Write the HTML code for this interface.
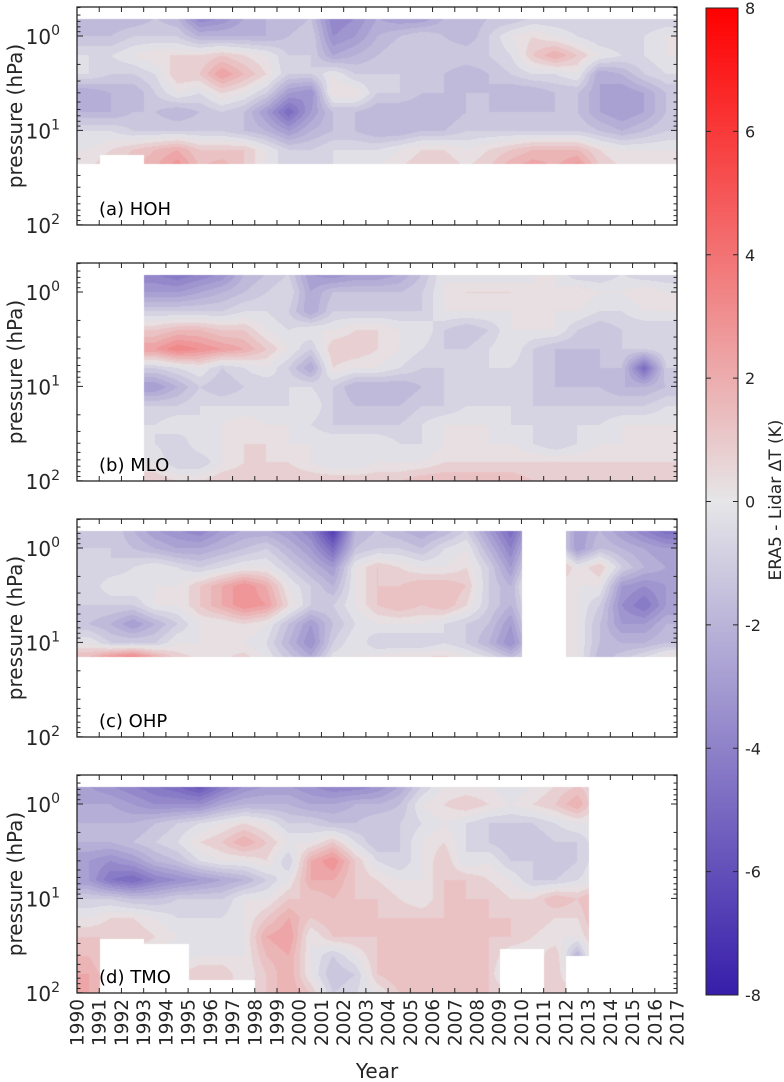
<!DOCTYPE html>
<html><head><meta charset="utf-8">
<style>
body{margin:0;background:#fff;width:784px;height:1082px;overflow:hidden;position:relative;font-family:"DejaVu Sans","Liberation Sans",sans-serif;}
canvas{position:absolute;}
svg{position:absolute;left:0;top:0;}
</style></head>
<body>
<canvas id="ca" width="600" height="218" style="left:77px;top:7px"></canvas>
<canvas id="cb" width="600" height="218" style="left:77px;top:263px"></canvas>
<canvas id="cc" width="600" height="218" style="left:77px;top:519px"></canvas>
<canvas id="cd" width="600" height="218" style="left:77px;top:775px"></canvas>
<canvas id="cbar" width="32" height="987" style="left:706px;top:8px"></canvas>
<svg id="ov" width="784" height="1082"></svg>
<script>
// grid: years 1990..2016 (columns), log10 pressure levels (rows)
const years = [1990,1991,1992,1993,1994,1995,1996,1997,1998,1999,2000,2001,2002,2003,2004,2005,2006,2007,2008,2009,2010,2011,2012,2013,2014,2015,2016];
const levels = [-0.2,0,0.2,0.4,0.6,0.8,1.0,1.2,1.4,1.6,1.8,2.0];
const panelNames = ["(a) HOH","(b) MLO","(c) OHP","(d) TMO"];
const colorTicks = [8,6,4,2,0,-2,-4,-6,-8];
const yearLabels = ["1990","1991","1992","1993","1994","1995","1996","1997","1998","1999","2000","2001","2002","2003","2004","2005","2006","2007","2008","2009","2010","2011","2012","2013","2014","2015","2016","2017"];

const dataA = [
[-2,-2,-2,-1.5,-2,-4,-3.5,-2.5,-2,-2,-1.5,-4,-3.5,-2.5,-3,-3,-2,-2,-1.5,-1.5,-1,-1,-1,-0.5,-1,-1,-1],
[-1.5,-1.5,-1,-1,-1,-2,-2,-2,-2,-1.5,-1,-3.5,-3,-2,-1.5,-1,-1.5,-2,-1,0,0.5,0,-0.5,-1,-1,-0.5,0],
[-0.5,-0.5,0,0.5,0.5,0.5,1,0.5,0,-1,-1,-2.5,-2,-1.5,-1,-1,-1,-1,-1,-0.5,1,2,1,0,-0.5,-0.5,0],
[-0.5,-1,-1,-0.5,1,1,2.5,1.5,0.5,-1,-1,0,-1,-1,-1,-1.5,-1.5,-2,-1.5,-1,-0.5,-0.5,0,-2.5,-2,-1,-0.5],
[-2.5,-2,-2,-1,0,-0.5,0.5,0,-1,-3,-3.5,0.5,0.5,-1,-1,-1.5,-1.5,-1.5,-1.5,-2,-2,-1.5,-1.5,-2.5,-3,-2.5,-1.5],
[-2,-2,-1.5,-1.5,-2,-1.5,-1,-1.5,-3,-5,-3,-1.5,-1.5,-2,-2,-2,-2,-1.5,-1.5,-1.5,-1.5,-1.5,-1.5,-2.5,-3,-2.5,-1.5],
[-0.5,-0.5,-1,-1,-1,-1,-1,-1.5,-2,-3,-2,-1.5,-1.5,-2,-2,-1.5,-1.5,-1,-1,-1,-1,-1,-1,-1.5,-2,-1.5,-1],
[0,0.5,1,1.5,2,1,1,1,0,-1,-1,-0.5,-0.5,-0.5,0,0.5,0.5,0,0.5,1,1.5,1.5,1.5,0.5,0,0,0],
[0.5,1,1.5,2,3,1.5,2,1,0,-1,-1,-0.5,-0.5,0,0.5,1,1,0.5,1,2,2.5,2,3,1,0.5,0.5,0],
[0.5,1,1.5,2,3,1.5,2,1,0,-1,-1,-0.5,-0.5,0,0.5,1,1,0.5,1,2,2.5,2,3,1,0.5,0.5,0],
[0.5,1,1.5,2,3,1.5,2,1,0,-1,-1,-0.5,-0.5,0,0.5,1,1,0.5,1,2,2.5,2,3,1,0.5,0.5,0],
[0.5,1,1.5,2,3,1.5,2,1,0,-1,-1,-0.5,-0.5,0,0.5,1,1,0.5,1,2,2.5,2,3,1,0.5,0.5,0]];
const dataB = [
[-4,-4,-4,-4,-4.5,-4,-3.5,-2,-1.5,-1,-3,-3.5,-3,-3,-2.5,-1.5,0,-0.5,-0.5,-0.5,0,0,-1,-1,-0.5,-1,-1],
[-3,-3,-3,-3,-3,-2.5,-2,-1.5,-1,-0.5,-2.5,-1.5,-1.5,-1.5,-1.5,-1,0,0.5,0.5,0.5,0,0,0.5,0,0,0.5,0],
[-1,-1,-1,-1,-1,-1,-1,-0.5,-0.5,-1,-2.5,-1,-1,-1,-1,-1,0,0,0,0,0,0,0,-0.5,-0.5,0,0],
[1,1,1,1,1.5,1.5,1,1,0,-0.5,0,0,0.5,0.5,0,0,-1,-1.5,-1,0,0,0,-1,-1.5,-1,-1,-1],
[2.5,2.5,2.5,2.5,3.5,3,2.5,2,1,0,-1,1,1,0.5,0,-0.5,-1,-1,-0.5,0,-1,-1.5,-1.5,-1.5,-1,-1,-0.5],
[-1,-1,-1,-1,-0.5,0,-1,-0.5,0,-1,-2.5,0.5,0,0,-0.5,-1,-1,-0.5,-0.5,-0.5,-1,-1.5,-2,-1.5,-1.5,-5,-1],
[-3,-3,-3,-3,-2,-1,-1.5,-1,-1,-0.5,-0.5,-1,-2,-2,-2,-1.5,-1,-1,-1,-0.5,-1,-1.5,-1.5,-1.5,-2,-2,-1.5],
[-1,-1,-1,-1,-1,-0.5,-0.5,-0.5,-0.5,-0.5,0,-1,-1.5,-1.5,-1.5,-1,-1,-0.5,-0.5,-0.5,-1,-1,-1,-1,-1,-1,-0.5],
[-0.5,-0.5,-0.5,-0.5,0,-0.5,0,0.5,0,0,-0.5,-1,-1,-1,-1,-0.5,0,0,0,-0.5,-0.5,-0.5,-0.5,-0.5,0,0,0],
[-0.5,-0.5,-0.5,-0.5,-1,0,0,0.5,0.5,0,0,0,0,0,-0.5,-0.5,0,0,0,0,-0.5,-1,-0.5,0,0,0,0],
[0,0,0,0,-1,-1,0,0.5,0.5,0.5,0,-0.5,-0.5,0,0,0,0.5,0.5,0.5,0.5,0.5,0.5,0.5,0.5,0.5,0.5,0.5],
[1,1,1,1,0.5,0.5,1,1,1,1,1,1,1,1,1,1.5,1.5,1.5,1.5,1.5,1,1,1,1,1,1,1]];
const dataC = [
[-1.5,-1,-2,-3,-3.5,-4,-3,-2.5,-2.5,-3,-4,-7,-2,-1.5,-2,-2.5,-2,-1,-3,-5,-2,0,-3,-2,-3,-4,-5],
[-1,-1,-1.5,-2,-2.5,-2.5,-2,-1.5,-1,-2,-3,-5,-1.5,-1,-1,-1.5,-0.5,0,-2,-4,-1,0,-3,-1.5,-2,-2.5,-3],
[-1,-1,-0.5,0,-0.5,-1,-0.5,0,0,-1,-2,-3,0,1,0.5,0,0,0.5,-1,-3,0,2,0,1,-1,-2,-2.5],
[-1,0,0,0,0,1,2,3,2,0,-1,-2,0,1,1,1.5,1.5,1,-1,-2,1,0,0,0,-3,-3.5,-3],
[-1,-1,-1,0,0,1,2,3,2.5,0.5,-1,-1,0,1,1.5,1,1.5,0.5,-1,-2,0,0,0,-1,-3.5,-4.5,-3],
[-1.5,-2,-3,-2,-1,0,0,0.5,0,-1.5,-3,-1.5,-0.5,0,0,0,-0.5,-1,-1.5,-3,0,0,0,-1.5,-3,-3,-2],
[0,-1,-1,-1,0,0,0,0,-0.5,-2,-3.5,-1,0,-1,-1,-1,-0.5,-1,-2,-3.5,-1,0,0,-1.5,-2,-2,-1.5],
[2,4,5,3,1,0.5,0.5,1,0,-1,-2,0,0,0.5,1,1,1,0.5,0,-1,0,0,0,-2,-1,0,1],
[2,4,5,3,1,0.5,0.5,1,0,-1,-2,0,0,0.5,1,1,1,0.5,0,-1,0,0,0,-2,-1,0,1],
[2,4,5,3,1,0.5,0.5,1,0,-1,-2,0,0,0.5,1,1,1,0.5,0,-1,0,0,0,-2,-1,0,1],
[2,4,5,3,1,0.5,0.5,1,0,-1,-2,0,0,0.5,1,1,1,0.5,0,-1,0,0,0,-2,-1,0,1],
[2,4,5,3,1,0.5,0.5,1,0,-1,-2,0,0,0.5,1,1,1,0.5,0,-1,0,0,0,-2,-1,0,1]];
const dataD = [
[-3,-3.5,-4,-4.5,-5,-6,-4.5,-3.5,-3,-3,-3.5,-4,-4,-3.5,-2.5,-1,0,0,0,-0.5,0,0.5,1,0.5,0,0,0],
[-2.5,-2.5,-3,-3.5,-3.5,-3.5,-2.5,-2,-2,-2,-2.5,-2.5,-2,-2,-1.5,0,0.5,1,0.5,0,0.5,1,2,0,0,0,0],
[-2,-2,-2,-1.5,-1,-0.5,0,0.5,0,-1,-1,-1.5,-1.5,-1,-1,-0.5,0,-0.5,-1,-1,-1,-0.5,0,0,0,0,0],
[-2,-2,-1.5,-1,-0.5,0.5,1,2,1,0,0,1,-0.5,-1.5,-1,0,0.5,-0.5,-1,-1.5,-1.5,-1,-1,0,0,0,0],
[-3,-3.5,-3,-2,-1.5,-0.5,0,0,0.5,-1,2,3,1,-0.5,-1,0,1,-0.5,0,-1,-1,-1.5,-1,0,0,0,0],
[-3,-4.5,-5,-4,-3.5,-3,-2.5,-2,-1,0,2,2,1,0.5,0,0,1,1,0.5,0,-1,-1,-0.5,0,0,0,0],
[-1,-1,-1.5,-1.5,-1,-1,-1,0,0,1,1,1.5,1,1,0.5,0,1,1,1,0.5,0.5,1.5,1,2,0,0,0],
[0,0.5,0.5,0,-0.5,-0.5,-0.5,0,1,2,1,1.5,1,1,1,1,1,1,1,1,1,0.5,0.5,2,0,0,0],
[1,1,1,0.5,0,-0.5,-0.5,0,2,2.5,0,1,1,1,1,1,1.5,1,1,1,0.5,0,0,1.5,0,0,0],
[1.5,0.5,0,0,-0.5,0,0,0,1.5,2,0,-1,0,1,1,1,1.5,1.5,1,0,0,1,-2,2,0,0,0],
[2,1,0.5,0.5,0.5,1,1,0,1,2,0,-1.5,-1,1,1.5,1,1,1,1,-1,0,1,-1,2,0,0,0],
[2,1,1,1,1,0.5,0.5,0.5,1,2,1,-1,-0.5,0,1,1,1,1,1,1,1,1,1,2,0,0,0]];
// data coverage: lowest log10(p) with data per year (null = no data)
const bottomA = [1.35,1.25,1.25,1.35,1.35,1.35,1.35,1.35,1.35,1.35,1.35,1.35,1.35,1.35,1.35,1.35,1.35,1.35,1.35,1.35,1.35,1.35,1.35,1.35,1.35,1.35,1.35];
const bottomB = [null,null,null,2,2,2,2,2,2,2,2,2,2,2,2,2,2,2,2,2,2,2,2,2,2,2,2];
const bottomC = [1.15,1.15,1.15,1.15,1.15,1.15,1.15,1.15,1.15,1.15,1.15,1.15,1.15,1.15,1.15,1.15,1.15,1.15,1.15,1.15,null,null,1.15,1.15,1.15,1.15,1.15];
const bottomD = [2,1.42,1.42,1.48,1.48,1.86,1.86,1.86,2,2,2,2,2,2,2,2,2,2,2,1.53,1.53,2,1.6,null,null,null,null];

const X0=77, PW=600, PH=218, Y0P=29, DEC=94.4, TOPLOG=-0.19;
const pxYear = PW/(yearLabels.length-1);
function yOf(lp){return Y0P+lp*DEC;}
function color(v){
  const t=Math.max(-1,Math.min(1,v/8));
  const g=[230,230,232];
  if(t<0){const b=[55,30,170],f=-t;return g.map((c,i)=>Math.round(c+(b[i]-c)*f));}
  const r=[255,0,0];return g.map((c,i)=>Math.round(c+(r[i]-c)*t));
}
function drawPanel(id,data,bottom){
  const c=document.getElementById(id),ctx=c.getContext('2d');
  const img=ctx.createImageData(PW,PH);
  const nc=years.length,nr=levels.length;
  for(let py=0;py<PH;py++){
    const lp=(py-Y0P)/DEC;
    let rf=(lp-levels[0])/(levels[1]-levels[0]);rf=Math.max(0,Math.min(nr-1,rf));
    const r0=Math.floor(rf),r1=Math.min(nr-1,r0+1),fr=rf-r0;
    for(let px=0;px<PW;px++){
      const yr=years[0]+px/pxYear;
      const ci=Math.min(nc-1,Math.floor(px/pxYear));
      const k=(py*PW+px)*4;
      const b=bottom[ci];
      if(b===null||lp>b||lp<TOPLOG){img.data[k]=255;img.data[k+1]=255;img.data[k+2]=255;img.data[k+3]=255;continue;}
      let cf=yr-years[0]-0.5;cf=Math.max(0,Math.min(nc-1,cf));
      const c0=Math.floor(cf),c1=Math.min(nc-1,c0+1),fc=cf-c0;
      let v=(data[r0][c0]*(1-fc)+data[r0][c1]*fc)*(1-fr)+(data[r1][c0]*(1-fc)+data[r1][c1]*fc)*fr;
      v=Math.floor(v/0.5)*0.5+0.25;
      const col=color(v);
      img.data[k]=col[0];img.data[k+1]=col[1];img.data[k+2]=col[2];img.data[k+3]=255;
    }
  }
  ctx.putImageData(img,0,0);
}
drawPanel('ca',dataA,bottomA);drawPanel('cb',dataB,bottomB);drawPanel('cc',dataC,bottomC);drawPanel('cd',dataD,bottomD);
(function(){const c=document.getElementById('cbar'),ctx=c.getContext('2d');
for(let y=0;y<987;y++){const v=8-16*y/986;const col=color(v);ctx.fillStyle=`rgb(${col})`;ctx.fillRect(0,y,32,1);}})();

const NS='http://www.w3.org/2000/svg',ov=document.getElementById('ov');
function el(tag,attrs,parent){const e=document.createElementNS(NS,tag);for(const k in attrs)e.setAttribute(k,attrs[k]);(parent||ov).appendChild(e);return e;}
const tops=[7,263,519,775];
tops.forEach((T,pi)=>{
  const g=el('g',{});
  
  
  el('rect',{x:X0,y:T,width:PW,height:PH,fill:'none',stroke:'#262626','stroke-width':1.3},g);
  for(let i=0;i<yearLabels.length;i++){const x=X0+i*pxYear;
    el('line',{x1:x,x2:x,y1:T,y2:T+5,stroke:'#262626','stroke-width':1},g);
    el('line',{x1:x,x2:x,y1:T+PH,y2:T+PH-5,stroke:'#262626','stroke-width':1},g);}
  for(let d=-1;d<2;d++)for(let m=1;m<10;m++){const lp=d+Math.log10(m);if(lp<-0.31||lp>2)continue;
    const y=T+yOf(lp),L=m===1?6:3.5;
    el('line',{x1:X0,x2:X0+L,y1:y,y2:y,stroke:'#262626','stroke-width':1},g);
    el('line',{x1:X0+PW,x2:X0+PW-L,y1:y,y2:y,stroke:'#262626','stroke-width':1},g);}
  el('line',{x1:X0,x2:X0+6,y1:T+yOf(2),y2:T+yOf(2),stroke:'#262626'},g);
  [0,1,2].forEach(e=>{const t=el('text',{x:60,y:T+yOf(e)+8,'text-anchor':'end','font-size':20,fill:'#262626'},g);
    
    t.textContent='10';const s=el('tspan',{dy:-9,'font-size':14},t);s.textContent=e;});
  const yt=el('text',{x:0,y:0,transform:`translate(22,${T+109}) rotate(-90)`,'text-anchor':'middle','font-size':20,fill:'#262626'},g);
  
  yt.textContent='pressure (hPa)';
  const pl=el('text',{x:99,y:T+208,'font-size':18,fill:'#000'},g);
  
  pl.textContent=panelNames[pi];
});
yearLabels.forEach((lab,i)=>{const x=X0+i*pxYear;
  const t=el('text',{x:0,y:0,transform:`translate(${x+6.5},${999}) rotate(-90)`,'text-anchor':'end','font-size':18.5,fill:'#262626'});
  
  t.textContent=lab;});
const xt=el('text',{x:377,y:1078,'text-anchor':'middle','font-size':20,fill:'#262626'});

xt.textContent='Year';
el('rect',{x:706,y:8,width:32,height:987,fill:'none',stroke:'#262626','stroke-width':1});
colorTicks.forEach(v=>{const y=8+(8-v)/16*987;
  el('line',{x1:738,x2:733,y1:y,y2:y,stroke:'#262626'});el('line',{x1:706,x2:711,y1:y,y2:y,stroke:'#262626'});
  const t=el('text',{x:745,y:y+6,'font-size':16,fill:'#262626'});
  
  t.textContent=v;});
const ct=el('text',{x:0,y:0,transform:'translate(781,500) rotate(-90)','text-anchor':'middle','font-size':17,fill:'#262626'});

ct.textContent='ERA5 - Lidar ΔT (K)';
</script>
</body></html>
